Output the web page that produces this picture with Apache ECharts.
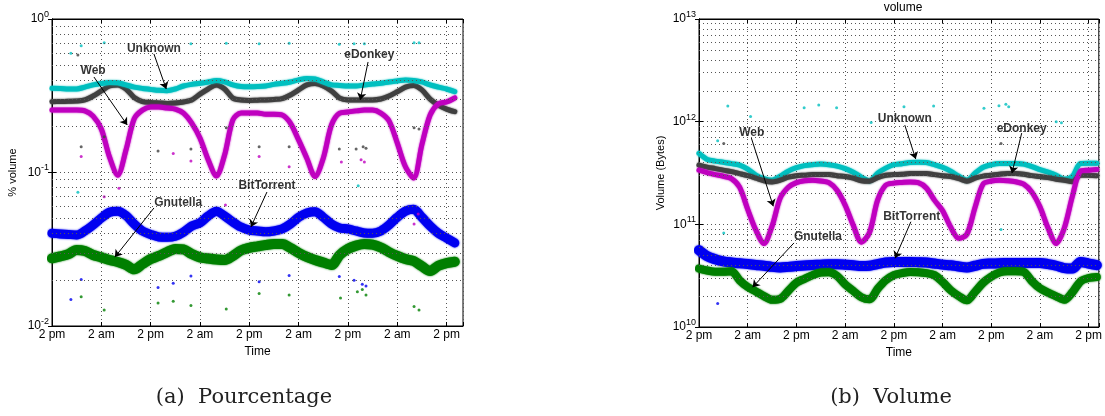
<!DOCTYPE html>
<html><head><meta charset="utf-8">
<script src="https://cdn.jsdelivr.net/npm/echarts@6/dist/echarts.min.js"></script>
<style>html,body{margin:0;padding:0;background:#fff}#c{width:1105px;height:416px}</style>
</head><body><div id="c"></div>
<script>
// ---------- data ----------
const hours = [0,2,4,6,8,10,12,14,16,18,20,22,24,26,28,30,32,34,36,38,40,42,44,46,48,50,52,54,56,58,60,62,64,66,68,70,72,74,76,78,80,82,84,86,88,90,92,94,96,98];
const xTickLabels = ['2 pm','2 am','2 pm','2 am','2 pm','2 am','2 pm','2 am','2 pm'];

// (a) Pourcentage (fraction of volume)
const unknownPct = [0.354,0.353,0.350,0.350,0.360,0.372,0.380,0.386,0.385,0.372,0.360,0.353,0.348,0.343,0.341,0.350,0.366,0.375,0.381,0.389,0.397,0.389,0.372,0.363,0.362,0.363,0.366,0.375,0.381,0.389,0.401,0.410,0.407,0.389,0.372,0.369,0.366,0.366,0.372,0.377,0.381,0.389,0.395,0.401,0.398,0.389,0.372,0.360,0.350,0.336];
const edonkeyPct = [0.289,0.290,0.291,0.292,0.297,0.315,0.340,0.366,0.372,0.350,0.308,0.290,0.286,0.284,0.282,0.284,0.288,0.297,0.324,0.350,0.372,0.350,0.305,0.297,0.295,0.296,0.297,0.299,0.303,0.320,0.345,0.372,0.380,0.366,0.340,0.305,0.297,0.297,0.297,0.297,0.301,0.315,0.336,0.360,0.369,0.345,0.301,0.275,0.259,0.249];
const webPct = [0.255,0.255,0.255,0.255,0.252,0.233,0.192,0.126,0.096,0.140,0.224,0.255,0.267,0.267,0.263,0.259,0.244,0.210,0.168,0.121,0.095,0.130,0.220,0.244,0.244,0.244,0.240,0.240,0.237,0.210,0.163,0.124,0.094,0.124,0.204,0.244,0.248,0.252,0.255,0.255,0.244,0.217,0.156,0.109,0.092,0.152,0.237,0.280,0.288,0.306];
const bittorrentPct = [0.0402,0.0398,0.0395,0.0392,0.0416,0.0455,0.0505,0.0551,0.0560,0.0525,0.0462,0.0416,0.0395,0.0380,0.0378,0.0384,0.0409,0.0448,0.0470,0.0521,0.0560,0.0521,0.0476,0.0441,0.0422,0.0416,0.0411,0.0416,0.0429,0.0462,0.0511,0.0545,0.0555,0.0511,0.0462,0.0435,0.0429,0.0416,0.0404,0.0402,0.0416,0.0455,0.0511,0.0560,0.0576,0.0511,0.0448,0.0402,0.0374,0.0348];
const gnutellaPct = [0.0276,0.0284,0.0294,0.0313,0.0308,0.0290,0.0280,0.0269,0.0261,0.0250,0.0234,0.0253,0.0273,0.0286,0.0303,0.0318,0.0316,0.0294,0.0280,0.0275,0.0271,0.0269,0.0286,0.0311,0.0323,0.0330,0.0337,0.0342,0.0342,0.0323,0.0300,0.0282,0.0269,0.0259,0.0250,0.0290,0.0318,0.0334,0.0342,0.0339,0.0325,0.0303,0.0286,0.0273,0.0265,0.0245,0.0228,0.0247,0.0257,0.0262];

const unknownPctOut = [[4.6,0.598],[7.1,0.670],[12.7,0.701],[33.8,0.690],[42.4,0.695],[50.4,0.690],[57.7,0.695],[69.9,0.684],[73.5,0.690],[76.0,0.690],[88.1,0.701],[89.3,0.701],[74.5,0.082],[6.3,0.0743]];
const edonkeyPctOut = [[6.3,0.583],[12.7,0.171],[7.1,0.147],[25.8,0.138],[33.8,0.142],[50.4,0.147],[57.7,0.147],[69.9,0.142],[74.0,0.142],[75.7,0.147],[76.4,0.144],[88.1,0.196],[89.3,0.192],[42.4,0.196]];
const webPctOut = [[7.1,0.127],[29.5,0.133],[33.8,0.119],[50.4,0.127],[57.7,0.109],[70.4,0.117],[75.2,0.121],[76.0,0.117],[12.7,0.0696],[16.3,0.0789],[42.2,0.0614],[89.1,0.0537],[88.1,0.0462]];
const bittorrentPctOut = [[4.6,0.0149],[7.1,0.0201],[25.8,0.0178],[29.5,0.0190],[33.8,0.0212],[50.4,0.0194],[57.7,0.0213],[69.9,0.0210],[73.5,0.0199],[75.5,0.0187],[76.4,0.0182]];
const gnutellaPctOut = [[7.1,0.0155],[12.7,0.0127],[25.8,0.0141],[29.5,0.0145],[33.8,0.0136],[42.4,0.0129],[50.4,0.0163],[57.7,0.0159],[70.2,0.0152],[74.3,0.0167],[75.5,0.0173],[76.4,0.0159],[88.1,0.0134],[89.3,0.0127]];

// (b) Volume (bytes)
const unknownVol = [4.90e11,4.29e11,4.13e11,4.03e11,3.90e11,3.77e11,3.45e11,3.01e11,2.79e11,2.69e11,2.94e11,3.30e11,3.56e11,3.73e11,3.81e11,3.86e11,3.81e11,3.69e11,3.49e11,3.22e11,2.88e11,2.65e11,3.15e11,3.53e11,3.81e11,3.90e11,4.00e11,4.03e11,4.00e11,3.81e11,3.60e11,3.30e11,2.94e11,2.69e11,3.15e11,3.60e11,3.81e11,3.92e11,3.92e11,3.92e11,3.86e11,3.65e11,3.41e11,3.22e11,3.01e11,2.75e11,2.94e11,3.92e11,3.94e11,3.94e11];
const edonkeyVol = [3.77e11,3.61e11,3.49e11,3.37e11,3.26e11,3.12e11,2.98e11,2.82e11,2.66e11,2.59e11,2.69e11,2.88e11,2.98e11,3.01e11,3.05e11,3.05e11,3.05e11,2.98e11,2.92e11,2.82e11,2.66e11,2.63e11,2.85e11,3.01e11,3.05e11,3.08e11,3.12e11,3.13e11,3.12e11,3.05e11,2.98e11,2.92e11,2.79e11,2.63e11,2.82e11,2.95e11,3.01e11,3.08e11,3.13e11,3.13e11,3.08e11,2.98e11,2.92e11,2.85e11,2.75e11,2.69e11,2.60e11,3.01e11,3.01e11,2.98e11];
const webVol = [3.37e11,3.19e11,3.05e11,2.94e11,2.79e11,2.30e11,1.40e11,8.8e10,6.5e10,9.6e10,1.80e11,2.30e11,2.55e11,2.66e11,2.69e11,2.64e11,2.55e11,2.15e11,1.54e11,9.8e10,6.7e10,8.3e10,1.72e11,2.41e11,2.52e11,2.56e11,2.59e11,2.55e11,2.26e11,1.72e11,1.36e11,9.4e10,7.3e10,8.0e10,1.46e11,2.47e11,2.64e11,2.69e11,2.66e11,2.60e11,2.46e11,2.06e11,1.48e11,9.2e10,6.5e10,9.2e10,1.88e11,3.30e11,3.37e11,3.42e11];
const bittorrentVol = [5.60e10,4.89e10,4.57e10,4.35e10,4.25e10,4.18e10,4.10e10,4.02e10,3.95e10,3.85e10,3.80e10,3.85e10,3.92e10,3.98e10,4.02e10,4.05e10,4.08e10,4.09e10,4.05e10,4.00e10,3.92e10,3.95e10,4.10e10,4.25e10,4.30e10,4.30e10,4.30e10,4.28e10,4.25e10,4.15e10,4.05e10,4.00e10,3.88e10,3.80e10,3.95e10,4.12e10,4.15e10,4.18e10,4.20e10,4.21e10,4.21e10,4.21e10,4.21e10,4.10e10,3.95e10,3.75e10,3.71e10,4.30e10,4.15e10,4.00e10];
const gnutellaVol = [3.71e10,3.55e10,3.45e10,3.45e10,3.50e10,2.85e10,2.45e10,2.22e10,2.00e10,1.84e10,1.88e10,2.25e10,2.70e10,2.95e10,3.20e10,3.40e10,3.42e10,3.15e10,2.60e10,2.25e10,1.95e10,1.86e10,2.35e10,2.85e10,3.20e10,3.35e10,3.44e10,3.42e10,3.35e10,3.20e10,2.75e10,2.28e10,2.00e10,1.82e10,2.20e10,2.70e10,3.10e10,3.40e10,3.50e10,3.50e10,3.44e10,2.80e10,2.38e10,2.16e10,1.99e10,1.84e10,2.18e10,2.78e10,3.00e10,3.07e10];

const unknownVolOut = [[7.1,1.42e12],[12.7,1.12e12],[4.6,6.51e11],[25.9,1.37e12],[29.5,1.45e12],[33.9,1.37e12],[42.4,9.84e11],[50.5,1.40e12],[57.8,1.42e12],[70.2,1.35e12],[73.9,1.43e12],[75.6,1.48e12],[76.3,1.40e12],[88.0,9.97e11],[89.3,9.75e11],[6.1,8.25e10],[74.4,8.91e10]];
const edonkeyVolOut = [[6.1,6.14e11],[74.4,6.14e11]];
const bittorrentVolOut = [[4.6,1.69e10]];

// minor gridline values (log decades)
const minorPct = [0.02,0.03,0.04,0.05,0.06,0.07,0.08,0.09,0.2,0.3,0.4,0.5,0.6,0.7,0.8,0.9];
const minorVol = [2e10,3e10,4e10,5e10,6e10,7e10,8e10,9e10,2e11,3e11,4e11,5e11,6e11,7e11,8e11,9e11,2e12,3e12,4e12,5e12,6e12,7e12,8e12,9e12];

// annotations: [text, hour, value]  and arrows: [h0, v0, h1, v1]
const labelsPct = [['Unknown',24.8,0.638],['Web',10.0,0.458],['eDonkey',77.2,0.583],['BitTorrent',52.3,0.0817],['Gnutella',30.7,0.0633]];
const arrowsPct = [[24.8,0.592,27.8,0.350],[10.2,0.419,18.3,0.204],[76.9,0.525,75.0,0.297],[52.3,0.0746,48.4,0.0442],[24.8,0.0587,15.3,0.0281]];
const labelsVol = [['Web',13.0,7.79e11],['Unknown',50.7,1.08e12],['eDonkey',79.5,8.60e11],['BitTorrent',52.4,1.18e11],['Gnutella',29.3,7.54e10]];
const arrowsVol = [[12.9,6.92e11,18.3,1.50e11],[50.7,9.26e11,53.4,4.32e11],[79.5,7.74e11,77.1,3.15e11],[52.2,1.06e11,48.3,4.67e10],[23.4,6.59e10,13.2,2.44e10]];

// ---------- chart ----------
const SANS = 'Liberation Sans, Arial, Helvetica, sans-serif';
const C = {unk:'#00bfbf', edk:'#404040', web:'#bf00bf', bit:'#0000f0', gnu:'#007f00'};

function xAx(grid, max, top) {
  return {
    type:'value', gridIndex:grid, min:0, max:max, interval:12, position: top ? 'top' : 'bottom',
    axisLine:{show:true, onZero:false, lineStyle:{color:'#000', width:1}},
    axisTick:{show:true, inside:true, length:4, lineStyle:{color:'#000'}},
    axisLabel:{show:!top, margin:3, fontSize:12, color:'#000', fontFamily:SANS,
      formatter: v => (Math.abs(v % 12) < 1e-6 ? xTickLabels[Math.round(v/12)] : '')},
    splitLine:{show:!top, lineStyle:{type:[1,3], color:'#555', width:1}},
    name: top ? '' : 'Time', nameLocation:'middle', nameGap:14,
    nameTextStyle:{fontSize:12, color:'#000', fontFamily:SANS}
  };
}
function yAx(grid, min, max, right, name, gap) {
  return {
    type:'log', logBase:10, gridIndex:grid, min:min, max:max, position: right ? 'right' : 'left',
    axisLine:{show:true, lineStyle:{color:'#000', width:1}},
    axisTick:{show:true, inside:true, length:4, lineStyle:{color:'#000'}},
    axisLabel:{show:!right, margin:3, color:'#000',
      formatter: v => '{b|10}{s|' + Math.round(Math.log10(v)) + '}',
      rich:{b:{fontSize:12, fontFamily:SANS, color:'#000'}, s:{fontSize:9, fontFamily:SANS, color:'#000', padding:[0,0,9,0]}}},
    splitLine:{show:!right, lineStyle:{type:[1,3], color:'#555', width:1}},
    name: right ? '' : name, nameLocation:'middle', nameGap:gap,
    nameTextStyle:{fontSize:11, color:'#000', fontFamily:SANS}
  };
}
function band(xi, yi, vals, color, width, z) {
  return {type:'line', xAxisIndex:xi, yAxisIndex:yi, data: hours.map((h,i)=>[h, vals[i]]),
    showSymbol:false, symbol:'none', smooth:0.3, silent:true, z:z,
    lineStyle:{color:color, width:width, cap:'round', join:'round', shadowColor:color, shadowBlur:2}};
}
function dots(xi, yi, pts, color) {
  return {type:'scatter', xAxisIndex:xi, yAxisIndex:yi, data:pts, symbolSize:3, silent:true, z:4,
    itemStyle:{color:color}};
}
function minorGrid(xi, yi, vals) {
  return {type:'line', xAxisIndex:xi, yAxisIndex:yi, data:[], z:1, silent:true,
    markLine:{silent:true, symbol:'none', animation:false, label:{show:false},
      lineStyle:{type:[1,3], color:'#555', width:1}, emphasis:{disabled:true},
      data: vals.map(v => ({yAxis:v}))}};
}
function arrows(xi, yi, arr) {
  return {type:'line', xAxisIndex:xi, yAxisIndex:yi, data:[], z:10, silent:true,
    markLine:{silent:true, symbol:['none','arrow'], symbolSize:7, animation:false, label:{show:false},
      lineStyle:{type:'solid', color:'#000', width:1}, emphasis:{disabled:true},
      data: arr.map(a => [{coord:[a[0],a[1]]},{coord:[a[2],a[3]]}])}};
}
function labels(xi, yi, arr) {
  return {type:'scatter', xAxisIndex:xi, yAxisIndex:yi, symbolSize:1, silent:true, z:11,
    itemStyle:{color:'rgba(0,0,0,0)'},
    data: arr.map(a => ({name:a[0], value:[a[1], a[2]]})),
    label:{show:true, position:'inside', formatter:'{b}', fontSize:12, fontWeight:'bold', color:'#000',
      textBorderWidth:0, fontFamily:SANS}};
}

const chart = echarts.init(document.getElementById('c'), null, {renderer:'canvas'});
chart.setOption({
  animation:false,
  backgroundColor:'#fff',
  grid:[
    {left:52, top:19, width:411, height:307, show:true, borderColor:'#000', borderWidth:1, backgroundColor:'transparent'},
    {left:699, top:19, width:404, height:308, show:true, borderColor:'#000', borderWidth:1, backgroundColor:'transparent'}
  ],
  xAxis:[xAx(0,100,false), xAx(0,100,true), xAx(1,98.5,false), xAx(1,98.5,true)],
  yAxis:[yAx(0,0.01,1,false,'% volume',34), yAx(0,0.01,1,true,'',0),
         yAx(1,1e10,1e13,false,'Volume (Bytes)',33), yAx(1,1e10,1e13,true,'',0)],
  series:[
    minorGrid(0,0,minorPct),
    minorGrid(2,2,minorVol),
    band(0,0,edonkeyPct,C.edk,5,2),
    band(0,0,unknownPct,C.unk,5,2),
    band(0,0,webPct,C.web,5,3),
    band(0,0,bittorrentPct,C.bit,9,2),
    band(0,0,gnutellaPct,C.gnu,10,2),
    dots(0,0,unknownPctOut,C.unk), dots(0,0,edonkeyPctOut,C.edk), dots(0,0,webPctOut,C.web),
    dots(0,0,bittorrentPctOut,C.bit), dots(0,0,gnutellaPctOut,C.gnu),
    band(2,2,unknownVol,C.unk,5,2),
    band(2,2,edonkeyVol,C.edk,5,2),
    band(2,2,webVol,C.web,5,3),
    band(2,2,bittorrentVol,C.bit,10,2),
    band(2,2,gnutellaVol,C.gnu,8,2),
    dots(2,2,unknownVolOut,C.unk), dots(2,2,edonkeyVolOut,C.edk), dots(2,2,bittorrentVolOut,C.bit),
    arrows(0,0,arrowsPct), labels(0,0,labelsPct),
    arrows(2,2,arrowsVol), labels(2,2,labelsVol)
  ],
  graphic:[
    {type:'text', x:903, y:8, style:{text:'volume', font:'12px ' + SANS, fill:'#000', textAlign:'center', align:'center', textVerticalAlign:'middle', verticalAlign:'middle'}},
    {type:'text', x:244, y:398, style:{text:'(a)  Pourcentage', font:'21px DejaVu Serif', fill:'#222', textAlign:'center', align:'center', textVerticalAlign:'middle', verticalAlign:'middle'}},
    {type:'text', x:891, y:398, style:{text:'(b)  Volume', font:'21px DejaVu Serif', fill:'#222', textAlign:'center', align:'center', textVerticalAlign:'middle', verticalAlign:'middle'}}
  ]
});
</script>
</body></html>
